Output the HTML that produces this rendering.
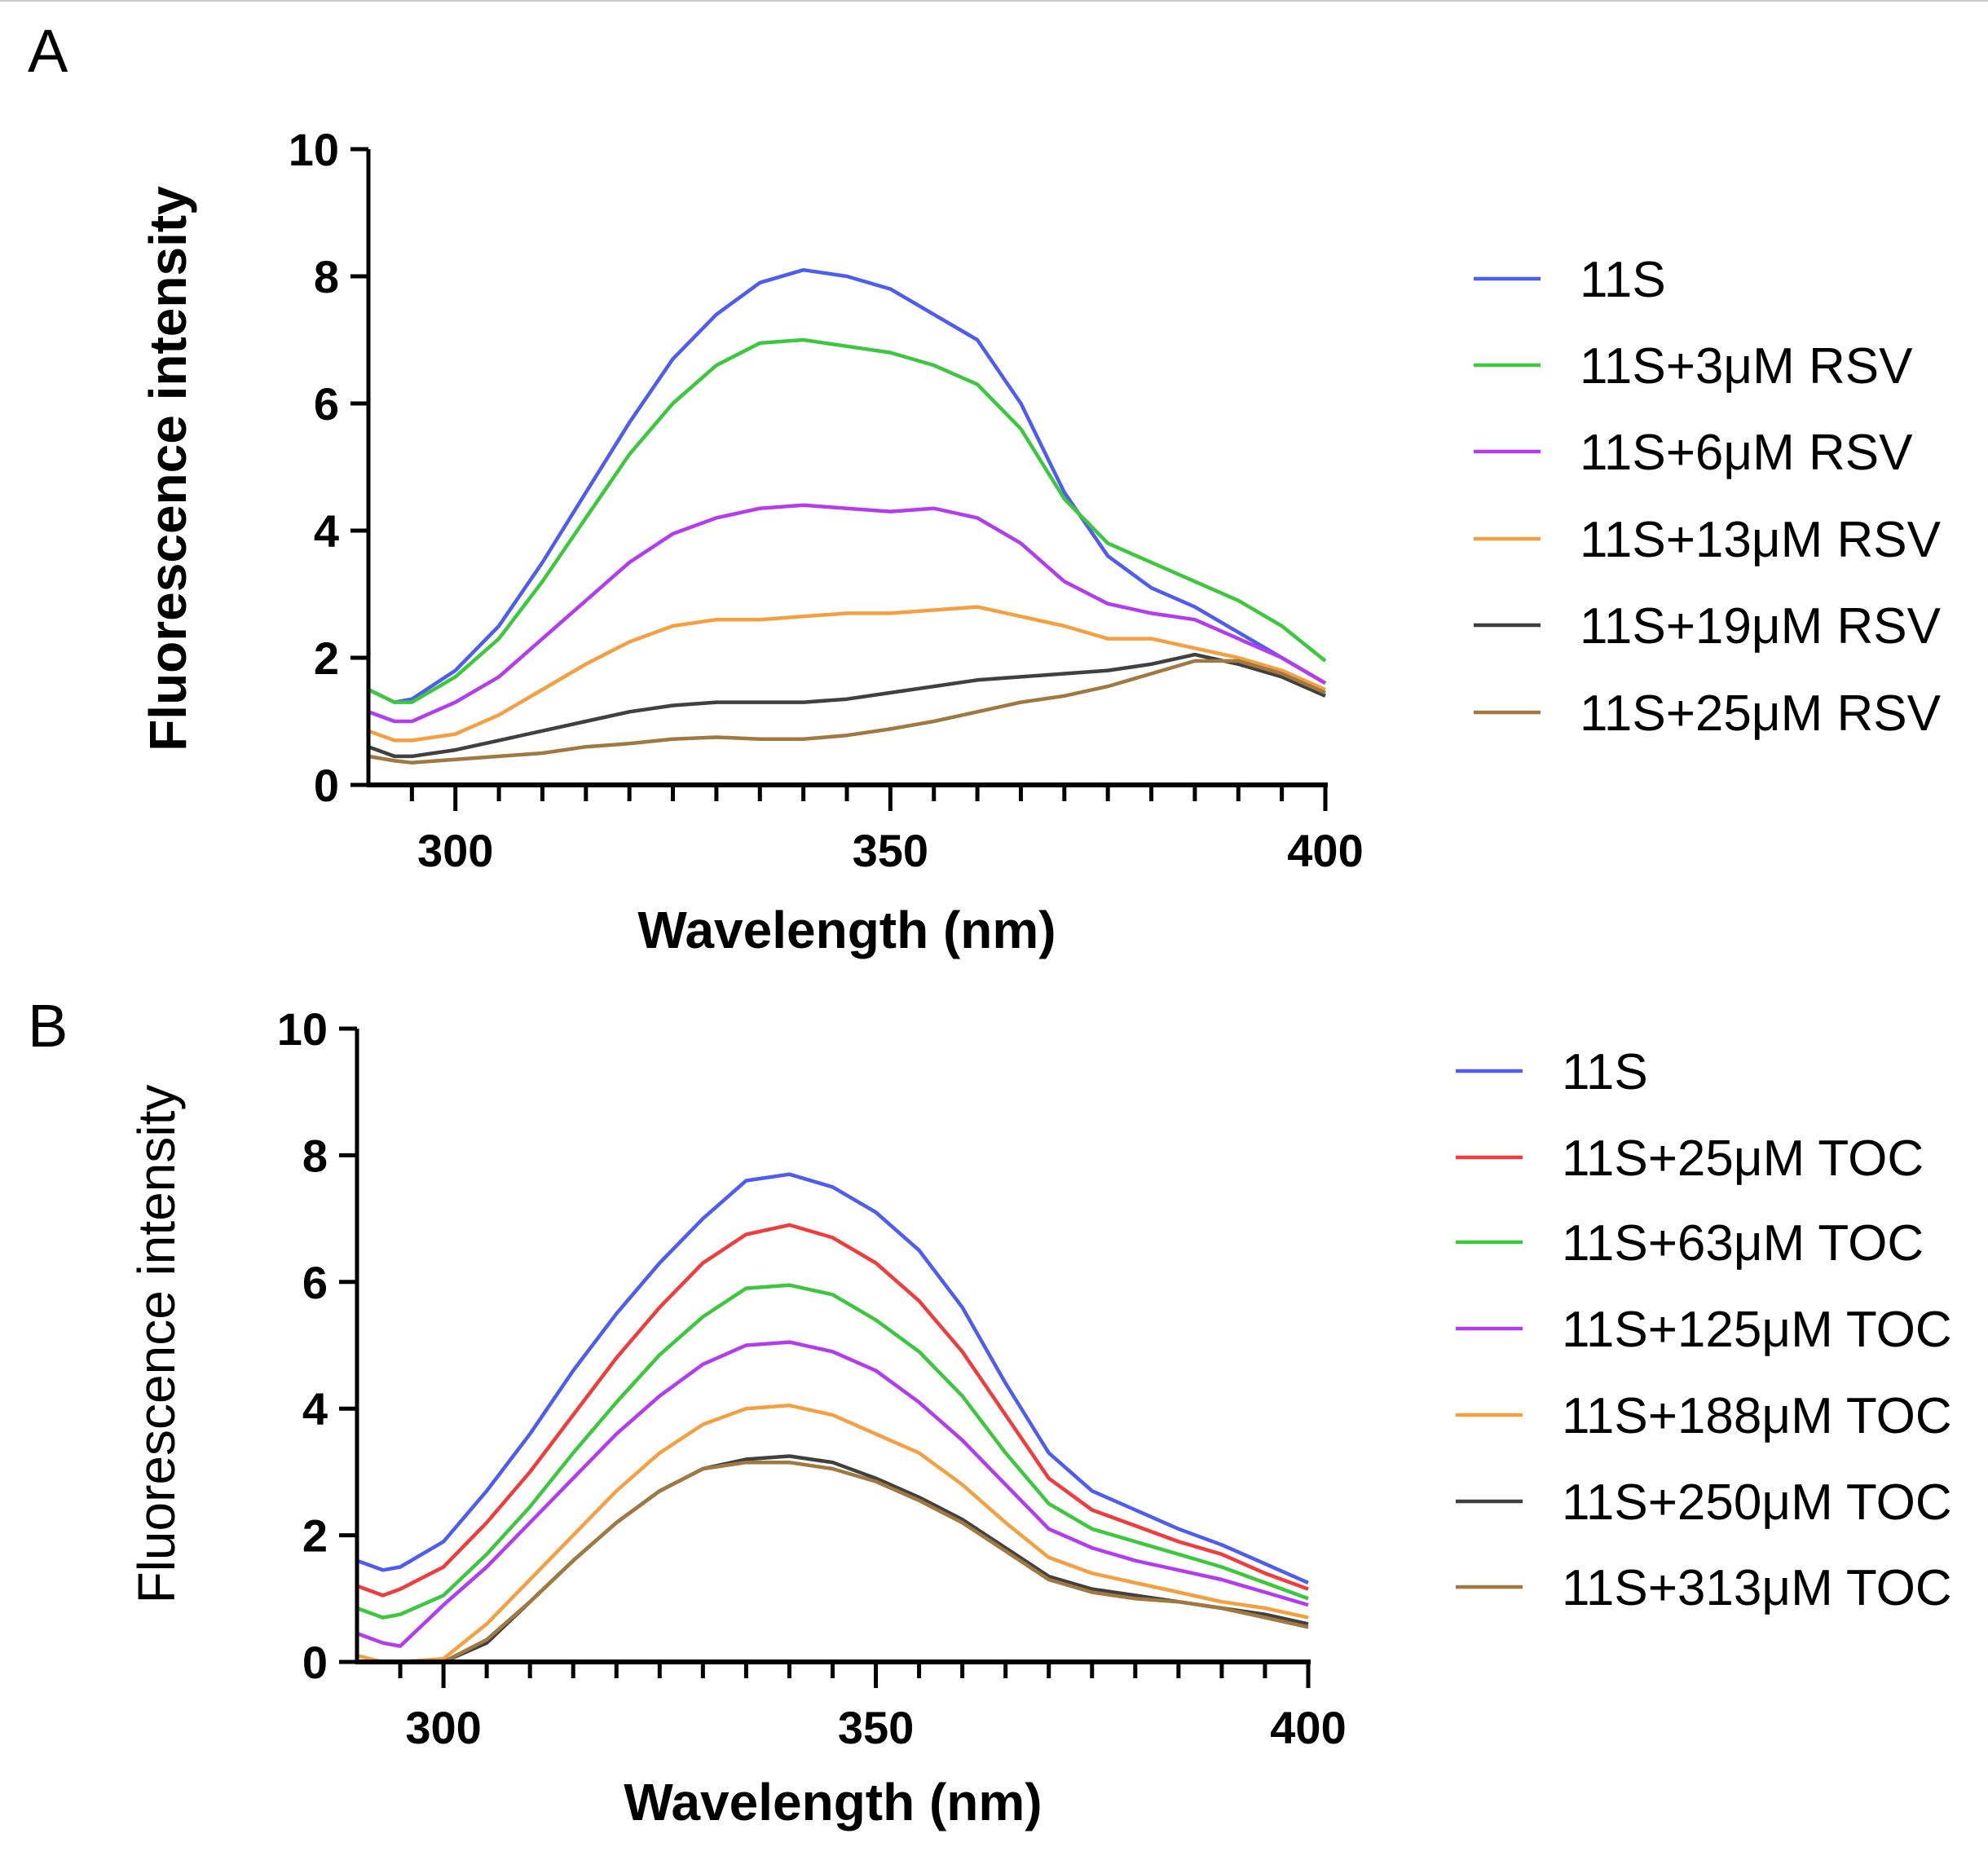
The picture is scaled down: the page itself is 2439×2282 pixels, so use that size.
<!DOCTYPE html>
<html><head><meta charset="utf-8"><style>
body{margin:0;background:#fff}
svg{display:block}
text{font-family:"Liberation Sans",Arial,sans-serif}
</style></head><body>
<svg id="fig" width="2439" height="2282" viewBox="0 0 2439 2282" xmlns="http://www.w3.org/2000/svg">
<rect width="2439" height="2282" fill="#fff"/>
<line x1="0" y1="1" x2="2439" y2="1" stroke="#ccc" stroke-width="2"/>
</svg>
<script>
const wavelengths = [290,293,295,300,305,310,315,320,325,330,335,340,345,350,355,360,365,370,375,380,385,390,395,400];
const seriesNamesA = ["11S","11S+3μM RSV","11S+6μM RSV","11S+13μM RSV","11S+19μM RSV","11S+25μM RSV"];
const a11S   = [1.5,1.3,1.35,1.8,2.5,3.5,4.6,5.7,6.7,7.4,7.9,8.1,8.0,7.8,7.4,7.0,6.0,4.6,3.6,3.1,2.8,2.4,2.0,1.6];
const aRsv3  = [1.5,1.3,1.3,1.7,2.3,3.2,4.2,5.2,6.0,6.6,6.95,7.0,6.9,6.8,6.6,6.3,5.6,4.5,3.8,3.5,3.2,2.9,2.5,1.95];
const aRsv6  = [1.15,1.0,1.0,1.3,1.7,2.3,2.9,3.5,3.95,4.2,4.35,4.4,4.35,4.3,4.35,4.2,3.8,3.2,2.85,2.7,2.6,2.3,2.0,1.6];
const aRsv13 = [0.85,0.7,0.7,0.8,1.1,1.5,1.9,2.25,2.5,2.6,2.6,2.65,2.7,2.7,2.75,2.8,2.65,2.5,2.3,2.3,2.15,2.0,1.8,1.5];
const aRsv19 = [0.6,0.45,0.45,0.55,0.7,0.85,1.0,1.15,1.25,1.3,1.3,1.3,1.35,1.45,1.55,1.65,1.7,1.75,1.8,1.9,2.05,1.9,1.7,1.4];
const aRsv25 = [0.45,0.38,0.35,0.4,0.45,0.5,0.6,0.65,0.72,0.75,0.72,0.72,0.78,0.88,1.0,1.15,1.3,1.4,1.55,1.75,1.95,1.95,1.75,1.45];
const seriesNamesB = ["11S","11S+25μM TOC","11S+63μM TOC","11S+125μM TOC","11S+188μM TOC","11S+250μM TOC","11S+313μM TOC"];
const b11S    = [1.6,1.45,1.5,1.9,2.7,3.6,4.6,5.5,6.3,7.0,7.6,7.7,7.5,7.1,6.5,5.6,4.4,3.3,2.7,2.4,2.1,1.85,1.55,1.25];
const bToc25  = [1.2,1.05,1.15,1.5,2.2,3.0,3.9,4.8,5.6,6.3,6.75,6.9,6.7,6.3,5.7,4.9,3.9,2.9,2.4,2.15,1.9,1.7,1.4,1.15];
const bToc63  = [0.85,0.7,0.75,1.05,1.7,2.45,3.3,4.1,4.85,5.45,5.9,5.95,5.8,5.4,4.9,4.2,3.3,2.5,2.1,1.9,1.7,1.5,1.25,1.0];
const bToc125 = [0.45,0.3,0.25,0.9,1.5,2.2,2.9,3.6,4.2,4.7,5.0,5.05,4.9,4.6,4.1,3.5,2.8,2.1,1.8,1.6,1.45,1.3,1.1,0.9];
const bToc188 = [0.1,0.0,0.0,0.05,0.6,1.3,2.0,2.7,3.3,3.75,4.0,4.05,3.9,3.6,3.3,2.8,2.2,1.65,1.4,1.25,1.1,0.95,0.85,0.7];
const bToc250 = [0,0,0,0,0.3,0.95,1.6,2.2,2.7,3.05,3.2,3.25,3.15,2.9,2.6,2.25,1.8,1.35,1.15,1.05,0.95,0.85,0.75,0.6];
const bToc313 = [0,0,0,0,0.35,0.95,1.6,2.2,2.7,3.05,3.15,3.15,3.05,2.85,2.55,2.2,1.75,1.3,1.1,1.0,0.95,0.85,0.7,0.55];
const yTicks = [0,2,4,6,8,10];
const xTicks = [300,350,400];

const NS="http://www.w3.org/2000/svg";
const svg=document.getElementById('fig');
function mk(tag,attrs,parent){const e=document.createElementNS(NS,tag);for(const k in attrs)e.setAttribute(k,attrs[k]);(parent||svg).appendChild(e);return e;}

function panel(cfg){
  const g=mk('g',{});
  
  
  const xs=v=>cfg.x0+(v-290)/110*(cfg.x1-cfg.x0);
  const ys=v=>cfg.y0-v/10*(cfg.y0-cfg.y1);
  const L=mk('text',{x:cfg.letterX,y:cfg.letterY,'font-size':74},g);L.textContent=cfg.letter;
  
  
  cfg.series.forEach((s,i)=>{
    const d=wavelengths.map((w,j)=>(j?'L':'M')+xs(w).toFixed(1)+','+ys(s.v[j]).toFixed(1)).join(' ');
    const p=mk('path',{d:d,fill:'none',stroke:s.c,'stroke-width':4.5,'stroke-linejoin':'round'},g);
    
    
    const ly=cfg.legY[i];
    const ll=mk('line',{x1:cfg.legX,x2:cfg.legX+82,y1:ly,y2:ly,stroke:s.c,'stroke-width':4.5},g);
    
    
    const lt=mk('text',{x:cfg.legX+130,y:ly+22,'font-size':62},g);lt.textContent=s.n;
    
    
  });
  const ya=mk('line',{x1:cfg.x0,x2:cfg.x0,y1:cfg.y1,y2:cfg.y0+2,stroke:'#000','stroke-width':5},g);
  
  
  const xa=mk('line',{x1:cfg.x0-2,x2:cfg.x1+3,y1:cfg.y0,y2:cfg.y0,stroke:'#000','stroke-width':6},g);
  
  
  yTicks.forEach(t=>{
    mk('line',{x1:cfg.x0-22,x2:cfg.x0,y1:ys(t),y2:ys(t),stroke:'#000','stroke-width':5},g);
    const tx=mk('text',{x:cfg.x0-36,y:ys(t)+20,'font-size':56,'font-weight':'bold','text-anchor':'end'},g);tx.textContent=t;
    
    
  });
  for(let w=295;w<=400;w+=5){
    const major=xTicks.includes(w);
    mk('line',{x1:xs(w),x2:xs(w),y1:cfg.y0,y2:cfg.y0+(major?32:20),stroke:'#000','stroke-width':5},g);
  }
  xTicks.forEach(t=>{
    const tx=mk('text',{x:xs(t),y:cfg.y0+100,'font-size':56,'font-weight':'bold','text-anchor':'middle'},g);tx.textContent=t;
    
    
  });
  const xt=mk('text',{x:cfg.xtX,y:cfg.xtY,'font-size':64,'font-weight':'bold','text-anchor':'middle'},g);xt.textContent='Wavelength (nm)';
  
  
  const yt=mk('text',{x:0,y:0,'font-size':64,'font-weight':cfg.ytBold?'bold':'normal','text-anchor':'middle',transform:`translate(${cfg.ytX},${cfg.ytY}) rotate(-90)`},g);yt.textContent='Fluorescence intensity';
  
  
}

panel({name:'panel-a',letter:'A',letterX:34,letterY:88,x0:452,x1:1626,y0:963,y1:183,
  legX:1808,legY:[342,448,554,661,767,874],xtX:1039,xtY:1163,ytX:228,ytY:575,ytBold:true,
  series:[{n:seriesNamesA[0],v:a11S,c:'#4d5cf2'},{n:seriesNamesA[1],v:aRsv3,c:'#3cc83c'},{n:seriesNamesA[2],v:aRsv6,c:'#b43cf0'},
    {n:seriesNamesA[3],v:aRsv13,c:'#f5a040'},{n:seriesNamesA[4],v:aRsv19,c:'#404040'},{n:seriesNamesA[5],v:aRsv25,c:'#a07840'}]});
panel({name:'panel-b',letter:'B',letterX:34,letterY:1284,x0:438,x1:1605,y0:2039,y1:1262,
  legX:1786,legY:[1314,1420,1524,1630,1736,1842,1947],xtX:1022,xtY:2233,ytX:214,ytY:1649,ytBold:false,
  series:[{n:seriesNamesB[0],v:b11S,c:'#4d5cf2'},{n:seriesNamesB[1],v:bToc25,c:'#f03c3c'},{n:seriesNamesB[2],v:bToc63,c:'#3cc83c'},
    {n:seriesNamesB[3],v:bToc125,c:'#b43cf0'},{n:seriesNamesB[4],v:bToc188,c:'#f5a040'},{n:seriesNamesB[5],v:bToc250,c:'#404040'},{n:seriesNamesB[6],v:bToc313,c:'#a07840'}]});
</script>
</body></html>
